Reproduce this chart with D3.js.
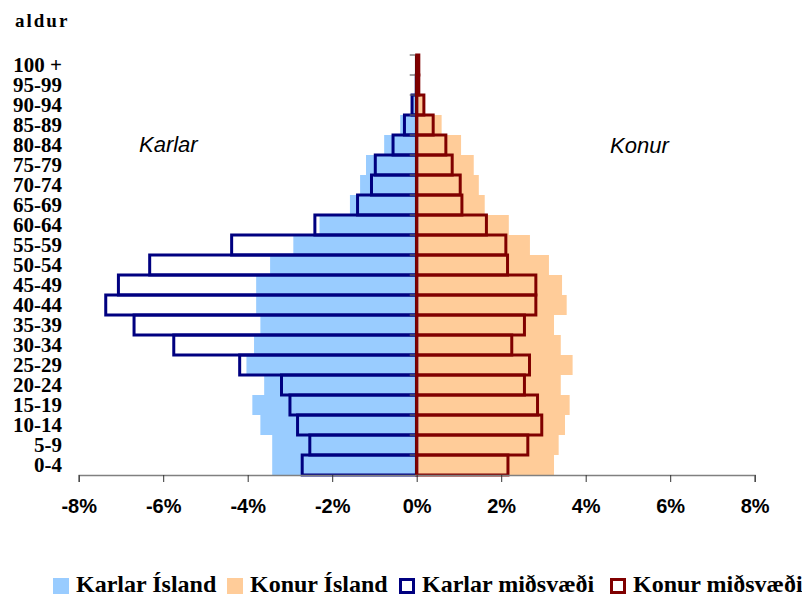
<!DOCTYPE html>
<html>
<head>
<meta charset="utf-8">
<script src="https://cdn.jsdelivr.net/npm/d3@7"></script>
<style>
  body { margin: 0; background: #fff; }
</style>
</head>
<body>
<script>
const w = 802;
const h = 596;

// age groups, bottom to top
const ages = ["0-4","5-9","10-14","15-19","20-24","25-29","30-34","35-39","40-44","45-49",
  "50-54","55-59","60-64","65-69","70-74","75-79","80-84","85-89","90-94","95-99","100 +"];

// percent of population
const karlarIsland = [3.42,3.42,3.70,3.89,3.61,4.03,3.85,3.70,3.80,3.80,
  3.47,2.92,2.30,1.58,1.34,1.20,0.77,0.39,0.12,0.03,0.01];
const konurIsland = [3.25,3.36,3.51,3.62,3.41,3.69,3.41,3.25,3.55,3.44,
  3.13,2.68,2.18,1.61,1.47,1.35,1.05,0.59,0.15,0.04,0.01];
const karlarMid = [2.71,2.53,2.82,3.00,3.20,4.19,5.75,6.69,7.36,7.06,
  6.32,4.38,2.41,1.40,1.07,0.98,0.56,0.29,0.11,0.01,0.0];
const konurMid = [2.16,2.63,2.96,2.86,2.55,2.67,2.25,2.55,2.82,2.82,
  2.15,2.11,1.65,1.07,1.03,0.84,0.69,0.39,0.17,0.05,0.05];

const xTicks = [-8,-6,-4,-2,0,2,4,6,8];

const legendItems = [
  {name: "Karlar Ísland", fill: "#99ccff", stroke: "none"},
  {name: "Konur Ísland", fill: "#ffcc99", stroke: "none"},
  {name: "Karlar miðsvæði", fill: "#fff", stroke: "#000080"},
  {name: "Konur miðsvæði", fill: "#fff", stroke: "#800000"}
];

let svg = d3.select("body")
  .append("svg")
  .attr("width", w)
  .attr("height", h);

const x = d3.scaleLinear().domain([-8, 8]).range([78.7, 754.7]);
const y = d3.scaleBand().domain(ages).range([475, 55]).padding(0);
const x0 = x(0);

function bars(vals, side, fill, stroke, sw) {
  svg.append("g")
    .selectAll("rect")
    .data(vals)
    .join("rect")
    .attr("x", d => side < 0 ? x(-d) : x0)
    .attr("width", d => Math.abs(x(d) - x0))
    .attr("y", (d, i) => y(ages[i]))
    .attr("height", y.bandwidth())
    .attr("fill", fill)
    .attr("stroke", stroke)
    .attr("stroke-width", sw);
}

bars(karlarIsland, -1, "#99ccff", "none", 0);
bars(konurIsland, 1, "#ffcc99", "none", 0);
bars(karlarMid, -1, "none", "#000080", 3);

// vertical axis with ticks at band boundaries
svg.append("line")
  .attr("x1", x0 - 1).attr("x2", x0 - 1)
  .attr("y1", y.range()[1]).attr("y2", y.range()[0])
  .attr("stroke", "#111").attr("stroke-width", 1.5);
svg.append("g")
  .selectAll("line")
  .data(ages)
  .join("line")
  .attr("x1", x0 - 7).attr("x2", x0)
  .attr("y1", d => y(d)).attr("y2", d => y(d))
  .attr("stroke", "#666").attr("stroke-width", 1.2);

bars(konurMid, 1, "none", "#800000", 3);

// age labels
svg.append("g")
  .selectAll("text")
  .data(ages)
  .join("text")
  .attr("x", 62)
  .attr("y", d => y(d) + y.bandwidth() / 2 + 7)
  .attr("text-anchor", "end")
  .style("font-family", "'Liberation Serif', 'Times New Roman', serif")
  .style("font-weight", "bold")
  .style("font-size", "21px")
  .text(d => d);

// x axis
let xAxis = svg.append("g")
  .attr("transform", "translate(0,475)")
  .call(d3.axisBottom(x).tickValues(xTicks).tickSize(7).tickPadding(17).tickFormat(d => d + "%"));
xAxis.select(".domain").attr("stroke", "#808080").attr("stroke-width", 1.5);
xAxis.selectAll(".tick line").attr("stroke", "#333");
xAxis.selectAll(".tick text")
  .attr("fill", "#000")
  .style("font-family", "'Liberation Sans', Arial, sans-serif")
  .style("font-weight", "bold")
  .style("font-size", "20px");

// title
svg.append("text")
  .attr("x", 15).attr("y", 27)
  .style("font-family", "'Liberation Serif', 'Times New Roman', serif")
  .style("font-weight", "bold")
  .style("font-size", "19px")
  .style("letter-spacing", "2px")
  .text("aldur");

// side labels
svg.append("text")
  .attr("x", 139).attr("y", 152)
  .style("font-family", "'Liberation Sans', Arial, sans-serif")
  .style("font-style", "italic")
  .style("font-size", "22px")
  .text("Karlar");
svg.append("text")
  .attr("x", 610).attr("y", 153)
  .style("font-family", "'Liberation Sans', Arial, sans-serif")
  .style("font-style", "italic")
  .style("font-size", "22px")
  .text("Konur");

// legend
const legendX = [53, 227, 399, 610];
let lg = svg.append("g")
  .selectAll("g")
  .data(legendItems)
  .join("g")
  .attr("transform", (d, i) => `translate(${legendX[i]},578)`);
lg.append("rect")
  .attr("x", d => d.stroke === "none" ? 0 : 1.5)
  .attr("y", d => d.stroke === "none" ? 0 : 1.5)
  .attr("width", d => d.stroke === "none" ? 16 : 13)
  .attr("height", d => d.stroke === "none" ? 16 : 13)
  .attr("fill", d => d.fill)
  .attr("stroke", d => d.stroke)
  .attr("stroke-width", 3);
lg.append("text")
  .attr("x", 23)
  .attr("y", 14)
  .style("font-family", "'Liberation Serif', 'Times New Roman', serif")
  .style("font-weight", "bold")
  .style("font-size", "24px")
  .text(d => d.name);
</script>
</body>
</html>
